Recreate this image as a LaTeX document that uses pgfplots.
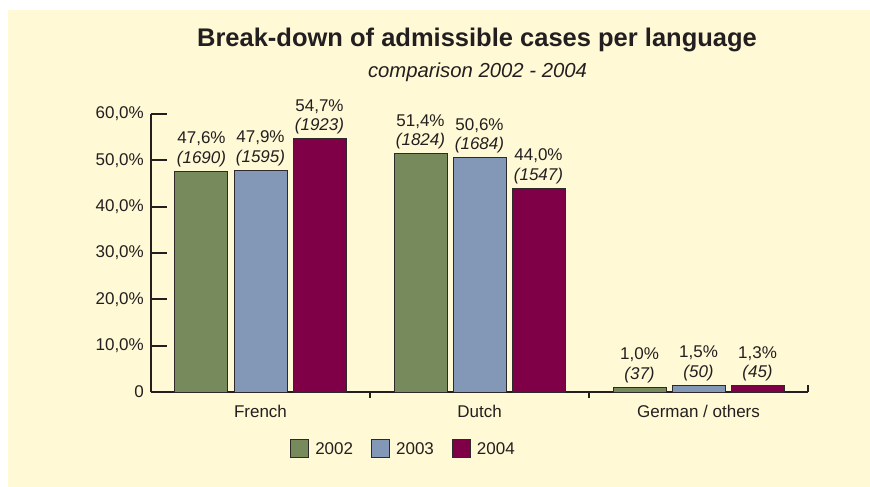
\documentclass[border=0pt]{standalone}
\usepackage{pgfplots}
\usepackage{pgfplotstable}
\pgfplotsset{compat=1.18}
\usepackage{fontspec}
\setmainfont{Liberation Sans}

\definecolor{bg}{HTML}{FFF9D5}
\definecolor{txt}{HTML}{231F20}
\definecolor{cA}{HTML}{778A5B}
\definecolor{cB}{HTML}{8397B7}
\definecolor{cC}{HTML}{7F0046}
\definecolor{edge}{HTML}{2E2A2B}

% share of admissible cases (%) and number of cases
\pgfplotstableread{
x y cnt
0 47.6 1690
1 51.4 1824
2 1.0 37
}\dataA
\pgfplotstableread{
x y cnt
0 47.9 1595
1 50.6 1684
2 1.5 50
}\dataB
\pgfplotstableread{
x y cnt
0 54.7 1923
1 44.0 1547
2 1.3 45
}\dataC

\begin{document}
\begin{tikzpicture}
\fill[white] (-151bp,-95bp) rectangle (719bp,392bp);
\fill[bg] (-143bp,-95bp) rectangle (719bp,382bp);
\begin{axis}[
  at={(0,0)}, anchor=south west,
  scale only axis, width=657bp, height=278bp,
  xmin=-0.5, xmax=2.5, ymin=0, ymax=60,
  axis x line*=bottom, axis y line*=left,
  axis line style={-, line width=2bp, draw=txt},
  clip=false,
  ybar=6bp, bar width=53bp,
  /pgf/number format/assume math mode=true,
  xtick={0,1,2},
  xticklabels={French,Dutch,German / others},
  x tick style={draw=none},
  ytick={0,10,20,30,40,50,60},
  yticklabels={0,{10,0\%},{20,0\%},{30,0\%},{40,0\%},{50,0\%},{60,0\%}},
  tick align=inside,
  major tick length=16bp,
  y tick style={line width=2bp, draw=txt},
  tick label style={font=\fontsize{17bp}{20bp}\selectfont, text=txt},
  yticklabel style={anchor=east, inner sep=0pt, xshift=-7bp},
  xticklabel style={anchor=north, inner sep=0pt, yshift=-13bp},
  nodes near coords={\pgfmathprintnumber[fixed,fixed zerofill,precision=1,use comma]{\pgfplotspointmeta}\%\\\textit{(\pgfmathprintnumber[fixed,precision=0,1000 sep={}]{\cnt})}},
  every node near coord/.append style={align=center, anchor=south, inner sep=0pt, yshift=4bp,
    font=\fontsize{17bp}{19.5bp}\selectfont, text=txt},
  legend columns=3,
  legend image code/.code={\draw[#1] (0bp,-9bp) rectangle (18bp,9bp);},
  legend style={at={(0.3851,-0.2050)}, anchor=center, draw=none, fill=none,
    font=\fontsize{17bp}{20bp}\selectfont, text=txt,
    nodes={inner sep=3bp},
    /tikz/every odd column/.append style={column sep=3bp},
    /tikz/every even column/.append style={column sep=15bp}},
]
\addplot[fill=cA, draw=edge, line width=1bp,
  visualization depends on={\thisrow{cnt} \as \cnt}] table[x=x,y=y] {\dataA};
\addplot[fill=cB, draw=edge, line width=1bp,
  visualization depends on={\thisrow{cnt} \as \cnt}] table[x=x,y=y] {\dataB};
\addplot[fill=cC, draw=edge, line width=1bp,
  visualization depends on={\thisrow{cnt} \as \cnt}] table[x=x,y=y] {\dataC};
\legend{2002,2003,2004}
% category separators on the baseline
\draw[line width=1.5bp, txt] (axis cs:0.5,0) -- ([yshift=-6bp]axis cs:0.5,0);
\draw[line width=1.5bp, txt] (axis cs:1.5,0) -- ([yshift=-6bp]axis cs:1.5,0);
\draw[line width=1.5bp, txt] (axis cs:2.5,0) -- ([yshift=7bp]axis cs:2.5,0);
\end{axis}
\node[anchor=base, text=txt, font=\fontsize{25.5bp}{28bp}\selectfont\bfseries] at (326bp,345bp)
  {Break-down of admissible cases per language};
\node[anchor=base, text=txt, font=\fontsize{20.3bp}{24bp}\selectfont\itshape] at (326.5bp,314bp)
  {comparison 2002 - 2004};
\pgfresetboundingbox
\path[use as bounding box] (-151bp,-95bp) rectangle (719bp,392bp);
\end{tikzpicture}
\end{document}
